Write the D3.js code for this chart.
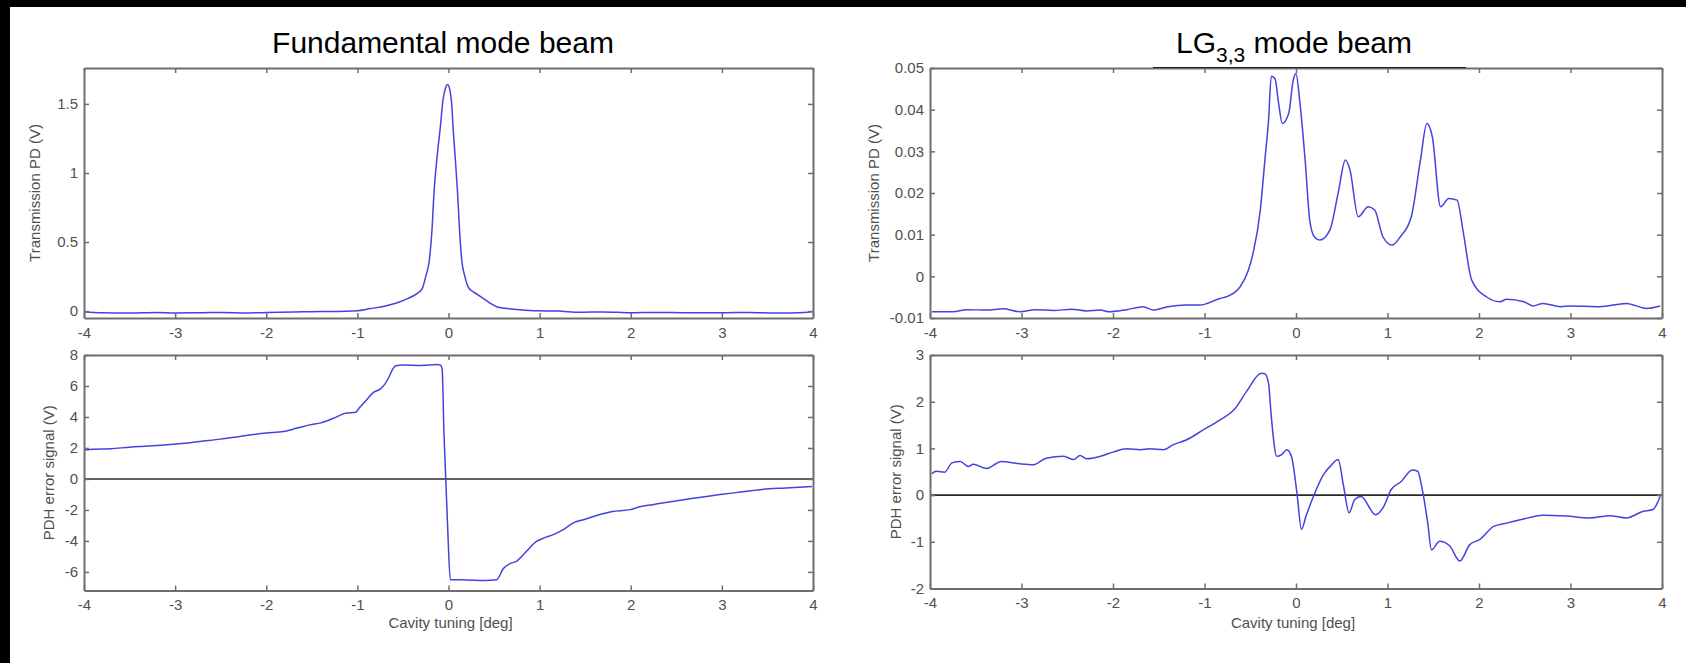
<!DOCTYPE html>
<html>
<head>
<meta charset="utf-8">
<script src="https://cdnjs.cloudflare.com/ajax/libs/d3/7.8.5/d3.min.js"></script>
<style>
  body { margin: 0; background: #fff; }
  svg { display: block; }
  .tick text { font-family: "Liberation Sans", Arial, sans-serif; font-size: 15px; fill: #505050; }
</style>
</head>
<body>
<div id="chart"></div>
<script>
// tuning axis shared by all four panels
var tuningTicks = [-4, -3, -2, -1, 0, 1, 2, 3, 4];

// Fundamental mode - transmission PD (V)
var fundTransX = [-4.0, -3.8, -3.5, -3.2, -3.0, -2.7, -2.5, -2.2, -2.0, -1.7, -1.5, -1.3, -1.0, -0.86, -0.7, -0.57, -0.45, -0.35, -0.29,
  -0.25, -0.21, -0.18, -0.16, -0.12, -0.09, -0.06, -0.03, -0.01, 0.015, 0.035, 0.05, 0.075, 0.1, 0.12, 0.145, 0.18, 0.22, 0.26,
  0.32, 0.38, 0.45, 0.53, 0.65, 0.75, 0.97, 1.2, 1.45, 1.7, 2.0, 2.3, 2.6, 3.0, 3.3, 3.6, 3.9, 4.0];
var fundTransY = [-0.004, -0.012, -0.014, -0.01, -0.013, -0.012, -0.01, -0.013, -0.011, -0.006, -0.004, -0.003, 0.003, 0.018, 0.035, 0.058, 0.09, 0.125, 0.16,
  0.25, 0.37, 0.6, 0.85, 1.15, 1.33, 1.53, 1.62, 1.64, 1.6, 1.5, 1.33, 1.1, 0.85, 0.6, 0.37, 0.25, 0.17, 0.145,
  0.12, 0.092, 0.06, 0.032, 0.018, 0.012, 0.002, 0.0, -0.008, -0.006, -0.012, -0.01, -0.012, -0.012, -0.01, -0.014, -0.01, -0.003];

// Fundamental mode - PDH error signal (V)
var fundPdhX = [-4.0, -3.9, -3.71, -3.5, -3.3, -3.09, -2.9, -2.73, -2.5, -2.29, -2.0, -1.81, -1.65, -1.52, -1.4, -1.26, -1.12, -1.02,
  -0.99, -0.9, -0.82, -0.75, -0.7, -0.66, -0.61, -0.58, -0.5, -0.3, -0.12, -0.09, -0.07, -0.05, -0.03, -0.01, 0.02, 0.2, 0.4, 0.53,
  0.6, 0.68, 0.75, 0.85, 0.97, 1.05, 1.15, 1.25, 1.37, 1.5, 1.66, 1.8, 1.99, 2.1, 2.24, 2.4, 2.58, 2.75, 2.98, 3.2, 3.42, 3.7, 3.99];
var fundPdhY = [1.85, 1.92, 1.95, 2.05, 2.12, 2.2, 2.3, 2.42, 2.57, 2.74, 2.96, 3.06, 3.3, 3.49, 3.62, 3.92, 4.25, 4.3,
  4.5, 5.1, 5.6, 5.8, 6.1, 6.5, 7.1, 7.3, 7.36, 7.33, 7.38, 7.36, 7.1, 3.0, 0.0, -3.0, -6.5, -6.52, -6.55, -6.5,
  -5.8, -5.45, -5.3, -4.7, -4.02, -3.8, -3.59, -3.3, -2.84, -2.6, -2.3, -2.1, -1.98, -1.8, -1.66, -1.5, -1.34, -1.2, -1.01, -0.85, -0.69, -0.58, -0.48];

// LG33 mode - transmission PD (V)
var lgTransX = [-3.98, -3.75, -3.6, -3.38, -3.2, -3.02, -2.85, -2.65, -2.45, -2.29, -2.14, -2.04, -1.85, -1.67, -1.56, -1.4, -1.2, -1.05,
  -0.83, -0.76, -0.61, -0.52, -0.47, -0.39, -0.34, -0.3, -0.27, -0.23, -0.19, -0.15, -0.08, -0.03, 0.0, 0.04, 0.1, 0.15, 0.2, 0.26,
  0.37, 0.46, 0.54, 0.59, 0.68, 0.79, 0.86, 0.95, 1.05, 1.14, 1.26, 1.36, 1.43, 1.49, 1.58, 1.67, 1.76, 1.83, 1.92, 2.08, 2.23,
  2.3, 2.49, 2.59, 2.7, 2.89, 3.0, 3.32, 3.61, 3.83, 3.98];
var lgTransY = [-0.0085, -0.0085, -0.008, -0.0081, -0.0078, -0.0085, -0.008, -0.0082, -0.0079, -0.0083, -0.0081, -0.0085, -0.008, -0.0073, -0.0081, -0.0073, -0.0069, -0.0069,
  -0.0053, -0.0049, -0.0025, 0.0015, 0.0055, 0.0159, 0.0279, 0.0375, 0.048, 0.0475, 0.0415, 0.0367, 0.0391, 0.0471, 0.0487, 0.0423, 0.0279, 0.0135, 0.0095, 0.0087,
  0.0111, 0.0199, 0.0279, 0.0255, 0.0143, 0.0167, 0.0159, 0.0095, 0.0075, 0.0095, 0.0143, 0.0279, 0.0367, 0.0335, 0.0167, 0.0187, 0.0183, 0.0103, -0.0009, -0.0049, -0.0061,
  -0.0055, -0.0061, -0.0071, -0.0065, -0.0073, -0.0071, -0.0073, -0.0065, -0.0077, -0.0071];

// LG33 mode - PDH error signal (V)
var lgPdhX = [-3.98, -3.93, -3.84, -3.76, -3.67, -3.58, -3.53, -3.38, -3.22, -3.02, -2.87, -2.73, -2.54, -2.43, -2.36, -2.29, -2.14, -2.0,
  -1.85, -1.7, -1.6, -1.45, -1.34, -1.2, -1.01, -0.83, -0.68, -0.54, -0.38, -0.34, -0.3, -0.27, -0.21, -0.16, -0.1, -0.05, 0.01, 0.06,
  0.11, 0.19, 0.3, 0.39, 0.46, 0.52, 0.58, 0.64, 0.71, 0.87, 0.96, 1.04, 1.15, 1.27, 1.33, 1.38, 1.44, 1.48, 1.57, 1.68, 1.79, 1.9,
  2.01, 2.16, 2.3, 2.45, 2.7, 2.96, 3.21, 3.43, 3.61, 3.79, 3.9, 3.98];
var lgPdhY = [0.46, 0.51, 0.49, 0.69, 0.72, 0.61, 0.66, 0.57, 0.72, 0.67, 0.65, 0.79, 0.83, 0.76, 0.85, 0.78, 0.83, 0.92,
  0.99, 0.97, 0.99, 0.97, 1.08, 1.18, 1.4, 1.61, 1.82, 2.22, 2.61, 2.6, 2.39, 1.68, 0.83, 0.86, 0.97, 0.83, 0.05, -0.73,
  -0.45, -0.03, 0.44, 0.65, 0.76, 0.19, -0.38, -0.1, -0.03, -0.42, -0.24, 0.12, 0.29, 0.54, 0.51, 0.12, -0.6, -1.17, -0.99, -1.09, -1.41, -1.06,
  -0.95, -0.67, -0.6, -0.53, -0.43, -0.45, -0.49, -0.44, -0.49, -0.35, -0.31, -0.03];

var fundTransTicks = [0, 0.5, 1, 1.5];
var fundTransLabels = ["0", "0.5", "1", "1.5"];
var fundPdhTicks = [-6, -4, -2, 0, 2, 4, 6, 8];
var fundPdhLabels = ["-6", "-4", "-2", "0", "2", "4", "6", "8"];
var lgTransTicks = [-0.01, 0, 0.01, 0.02, 0.03, 0.04, 0.05];
var lgTransLabels = ["-0.01", "0", "0.01", "0.02", "0.03", "0.04", "0.05"];
var lgPdhTicks = [-2, -1, 0, 1, 2, 3];
var lgPdhLabels = ["-2", "-1", "0", "1", "2", "3"];
var tuningLabels = ["-4", "-3", "-2", "-1", "0", "1", "2", "3", "4"];

var width = 1686;
var height = 663;
var font = '"Liberation Sans", Arial, sans-serif';

var svg = d3.select('#chart')
  .append('svg')
  .attr('width', width)
  .attr('height', height);

svg.append('rect').attr('width', width).attr('height', height).attr('fill', '#fff');

// black frame strips (top and left) seen in the original screenshot
svg.append('rect').attr('x', 0).attr('y', 0).attr('width', width).attr('height', 7).attr('fill', '#000');
svg.append('rect').attr('x', 0).attr('y', 0).attr('width', 10).attr('height', height).attr('fill', '#000');

function panel(box, yDomain, yTicks, yLabels, xs, ys, ylabel, ylabelX, zeroLine) {
  var x = d3.scaleLinear().domain([-4, 4]).range([box.x0, box.x1]);
  var y = d3.scaleLinear().domain(yDomain).range([box.y1, box.y0]);
  var g = svg.append('g');

  // data line
  var pts = xs.map(function(d, i) { return [d, ys[i]]; });
  var line = d3.line()
    .x(function(d) { return x(d[0]); })
    .y(function(d) { return y(d[1]); })
    .curve(d3.curveMonotoneX);

  if (zeroLine) {
    g.append('line')
      .attr('x1', box.x0).attr('x2', box.x1)
      .attr('y1', y(0)).attr('y2', y(0))
      .attr('stroke', '#2a2a2a').attr('stroke-width', 1.6);
  }

  g.append('path')
    .datum(pts)
    .attr('d', line)
    .attr('fill', 'none')
    .attr('stroke', '#4343de')
    .attr('stroke-width', 1.5)
    .attr('stroke-linejoin', 'round');

  // axes (matlab style: box with inward ticks on all sides)
  var bottom = g.append('g')
    .attr('transform', 'translate(0,' + box.y1 + ')')
    .call(d3.axisBottom(x).tickValues(tuningTicks).tickSizeInner(-5).tickSizeOuter(0).tickPadding(9)
      .tickFormat(function(d, i) { return tuningLabels[i]; }));
  var top = g.append('g')
    .attr('transform', 'translate(0,' + box.y0 + ')')
    .call(d3.axisTop(x).tickValues(tuningTicks).tickSizeInner(-5).tickSizeOuter(0).tickFormat(''));
  var left = g.append('g')
    .attr('transform', 'translate(' + box.x0 + ',0)')
    .call(d3.axisLeft(y).tickValues(yTicks).tickSizeInner(-5).tickSizeOuter(0).tickPadding(6)
      .tickFormat(function(d, i) { return yLabels[i]; }));
  var right = g.append('g')
    .attr('transform', 'translate(' + box.x1 + ',0)')
    .call(d3.axisRight(y).tickValues(yTicks).tickSizeInner(-5).tickSizeOuter(0).tickFormat(''));

  [bottom, top, left, right].forEach(function(a) {
    a.select('.domain').attr('stroke', '#6e6e6e').attr('stroke-width', 2);
    a.selectAll('.tick line').attr('stroke', '#6e6e6e').attr('stroke-width', 1.5);
  });

  g.append('text')
    .attr('transform', 'translate(' + ylabelX + ',' + ((box.y0 + box.y1) / 2) + ') rotate(-90)')
    .attr('text-anchor', 'middle')
    .attr('dominant-baseline', 'central')
    .style('font-family', font)
    .style('font-size', '15px')
    .style('fill', '#505050')
    .text(ylabel);
}

var leftTop = {x0: 84, x1: 813, y0: 68, y1: 318};
var leftBot = {x0: 84, x1: 813, y0: 355, y1: 590.5};
var rightTop = {x0: 930, x1: 1662, y0: 68, y1: 318};
var rightBot = {x0: 930, x1: 1662, y0: 355, y1: 588.5};

panel(leftTop, [-0.05, 1.76], fundTransTicks, fundTransLabels, fundTransX, fundTransY, 'Transmission PD (V)', 34, false);
panel(leftBot, [-7.2, 8], fundPdhTicks, fundPdhLabels, fundPdhX, fundPdhY, 'PDH error signal (V)', 48, true);
panel(rightTop, [-0.01, 0.05], lgTransTicks, lgTransLabels, lgTransX, lgTransY, 'Transmission PD (V)', 873, false);
panel(rightBot, [-2, 3], lgPdhTicks, lgPdhLabels, lgPdhX, lgPdhY, 'PDH error signal (V)', 895, true);

// x axis labels
[[(leftBot.x0 + leftBot.x1) / 2 + 2], [(rightBot.x0 + rightBot.x1) / 2 - 3]].forEach(function(c) {
  svg.append('text')
    .attr('x', c[0]).attr('y', 622)
    .attr('text-anchor', 'middle')
    .attr('dominant-baseline', 'central')
    .style('font-family', font)
    .style('font-size', '15px')
    .style('fill', '#505050')
    .text('Cavity tuning [deg]');
});

// titles
svg.append('text')
  .attr('x', 443).attr('y', 53)
  .attr('text-anchor', 'middle')
  .style('font-family', font)
  .style('font-size', '30px')
  .style('fill', '#000')
  .text('Fundamental mode beam');

// edge of the title text box sitting on the right plot's top border
svg.append('line')
  .attr('x1', 1153).attr('x2', 1466).attr('y1', 67.5).attr('y2', 67.5)
  .attr('stroke', '#1e1e1e').attr('stroke-width', 1.2);

var t2 = svg.append('text')
  .attr('x', 1294).attr('y', 53)
  .attr('text-anchor', 'middle')
  .style('font-family', font)
  .style('font-size', '30px')
  .style('fill', '#000');
t2.append('tspan').text('LG');
t2.append('tspan').attr('dy', 9).style('font-size', '21px').text('3,3');
t2.append('tspan').attr('dy', -9).text(' mode beam');
</script>
</body>
</html>
